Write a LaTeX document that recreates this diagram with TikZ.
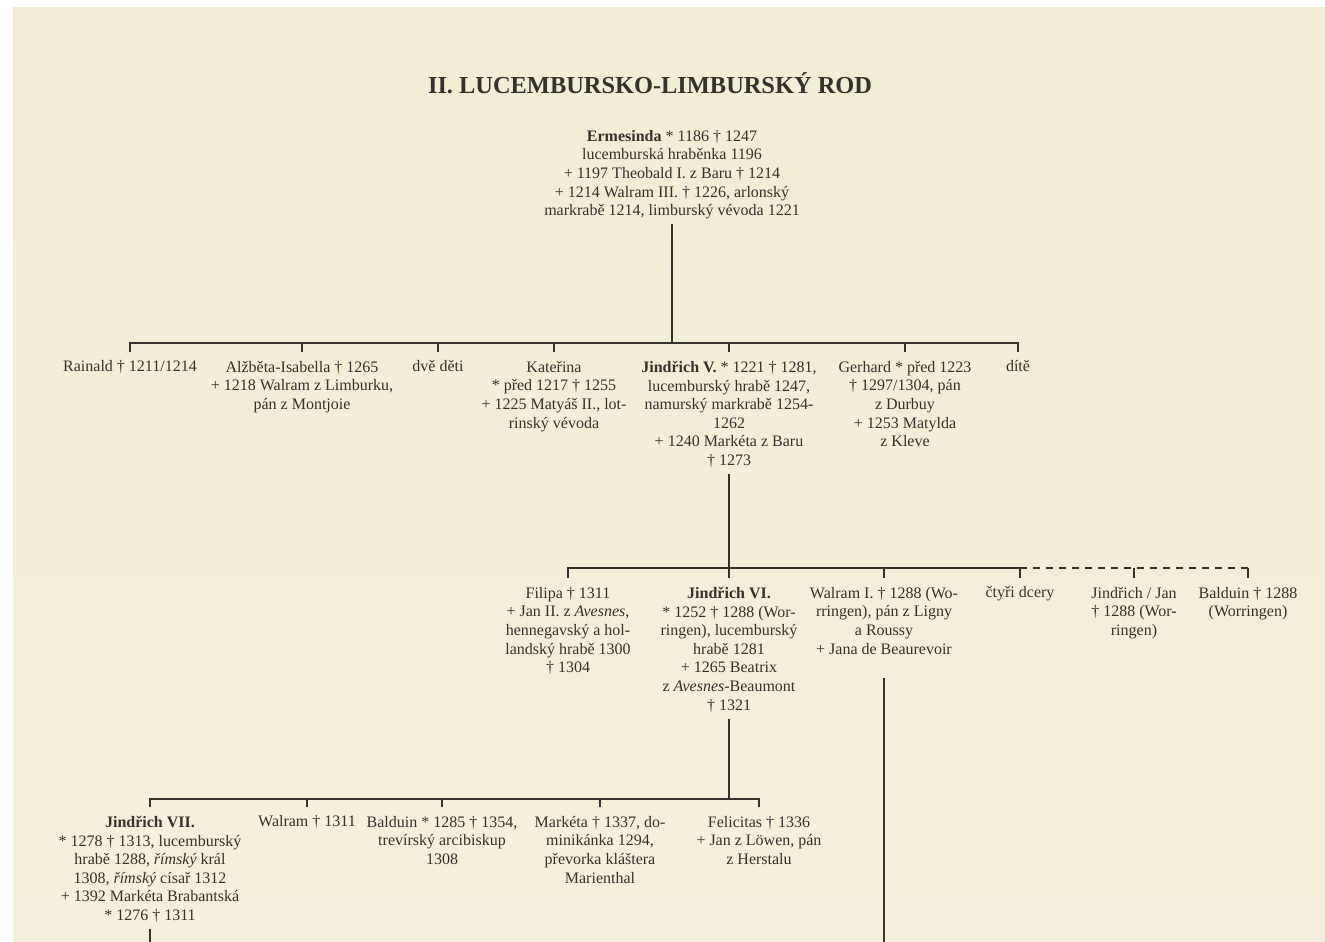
\documentclass[tikz,border=0pt]{standalone}
\usepackage{fontspec}
\setmainfont{Liberation Serif}
\definecolor{ink}{HTML}{35312C}
\definecolor{papertop}{HTML}{F2EDD4}
\definecolor{papermid}{HTML}{FAF8EA}
\definecolor{paperbot}{HTML}{F6EFDD}
\begin{document}
\begin{tikzpicture}[x=1pt,y=-1pt,
  every node/.style={inner sep=0pt, align=center, text=ink,
    font=\fontsize{16}{18.6}\selectfont, anchor=north,
    execute at begin node=\strut},
  line/.style={draw=ink, line width=1.3pt},
  dline/.style={line, dash pattern=on 7pt off 6pt}]
\useasboundingbox (0,0) rectangle (1325,942);
\fill[white] (0,0) rectangle (1325,942);
\shade[top color=papertop, middle color=papermid, bottom color=paperbot] (13,8) rectangle (1325,942);

% title
\node[font=\fontsize{24.4}{28}\selectfont\bfseries, anchor=base, execute at begin node={}] (title) at (650,93) {II. LUCEMBURSKO-LIMBURSKÝ ROD};

% root
\node (erm) at (672,130) {\textbf{Ermesinda} * 1186 † 1247\\lucemburská hraběnka 1196\\+ 1197 Theobald I. z Baru † 1214\\+ 1214 Walram III. † 1226, arlonský\\markrabě 1214, limburský vévoda 1221};

% generation 1
\coordinate (b1) at (0,343);
\node (rainald) at (130,358) {Rainald † 1211/1214};
\node (alz) at (302,361) {Alžběta-Isabella † 1265\\+ 1218 Walram z Limburku,\\pán z Montjoie};
\node (dve) at (438,358) {dvě děti};
\node (kat) at (554,361) {Kateřina\\* před 1217 † 1255\\+ 1225 Matyáš II., lot-\\rinský vévoda};
\node (jin5) at (729,361) {\textbf{Jindřich V.} * 1221 † 1281,\\lucemburský hrabě 1247,\\namurský markrabě 1254-\\1262\\+ 1240 Markéta z Baru\\† 1273};
\node (ger) at (905,361) {Gerhard * před 1223\\† 1297/1304, pán\\z Durbuy\\+ 1253 Matylda\\z Kleve};
\node (dite) at (1018,358) {dítě};

\draw[line] ([yshift=-3pt]erm.south) -- (erm.south |- b1);
\draw[line] ([yshift=6pt]rainald.north) -- (rainald.north |- b1) -- (dite.north |- b1) -- ([yshift=6pt]dite.north);
\foreach \n in {dve}
  \draw[line] ([yshift=6pt]\n.north) -- (\n.north |- b1);
\foreach \n in {alz,kat,jin5,ger}
  \draw[line] ([yshift=9pt]\n.north) -- (\n.north |- b1);

% generation 2
\coordinate (b2) at (0,568);
\node (fil) at (568,587) {Filipa † 1311\\+ Jan II. z \textit{Avesnes},\\hennegavský a hol-\\landský hrabě 1300\\† 1304};
\node (jin6) at (729,587) {\textbf{Jindřich VI.}\\* 1252 † 1288 (Wor-\\ringen), lucemburský\\hrabě 1281\\+ 1265 Beatrix\\z \textit{Avesnes}-Beaumont\\† 1321};
\node (wal1) at (884,587) {Walram I. † 1288 (Wo-\\rringen), pán z Ligny\\a Roussy\\+ Jana de Beaurevoir};
\node (ctyri) at (1020,584) {čtyři dcery};
\node (jj) at (1134,587) {Jindřich / Jan\\† 1288 (Wor-\\ringen)};
\node (bal1) at (1248,587) {Balduin † 1288\\(Worringen)};

\draw[line] ([yshift=-3pt]jin5.south) -- (jin5.south |- b2);
\draw[line] ([yshift=9pt]fil.north) -- (fil.north |- b2) -- (ctyri.north |- b2) -- ([yshift=6pt]ctyri.north);
\draw[dline] (ctyri.north |- b2) -- (bal1.north |- b2);
\draw[line] (bal1.north |- b2) -- ([yshift=9pt]bal1.north);
\foreach \n in {jin6,wal1,jj}
  \draw[line] ([yshift=9pt]\n.north) -- (\n.north |- b2);
\coordinate (ew) at (884,942);
\draw[line] ([yshift=-18pt]wal1.south) -- (wal1.south |- ew);

% generation 3
\coordinate (b3) at (0,799);
\node (jin7) at (150,816) {\textbf{Jindřich VII.}\\* 1278 † 1313, lucemburský\\hrabě 1288, \textit{římský} král\\1308, \textit{římský} císař 1312\\+ 1392 Markéta Brabantská\\* 1276 † 1311};
\node (wal2) at (307,813) {Walram † 1311};
\node (bal2) at (442,816) {Balduin * 1285 † 1354,\\trevírský arcibiskup\\1308};
\node (mar) at (600,816) {Markéta † 1337, do-\\minikánka 1294,\\převorka kláštera\\Marienthal};
\node (fel) at (759,816) {Felicitas † 1336\\+ Jan z Löwen, pán\\z Herstalu};

\draw[line] ([yshift=-3pt]jin6.south) -- (jin6.south |- b3);
\draw[line] ([yshift=9pt]jin7.north) -- (jin7.north |- b3) -- (fel.north |- b3) -- ([yshift=9pt]fel.north);
\draw[line] ([yshift=6pt]wal2.north) -- (wal2.north |- b3);
\foreach \n in {bal2,mar}
  \draw[line] ([yshift=9pt]\n.north) -- (\n.north |- b3);
\coordinate (e7) at (150,942);
\draw[line] ([yshift=-3pt]jin7.south) -- (jin7.south |- e7);
\end{tikzpicture}
\end{document}
